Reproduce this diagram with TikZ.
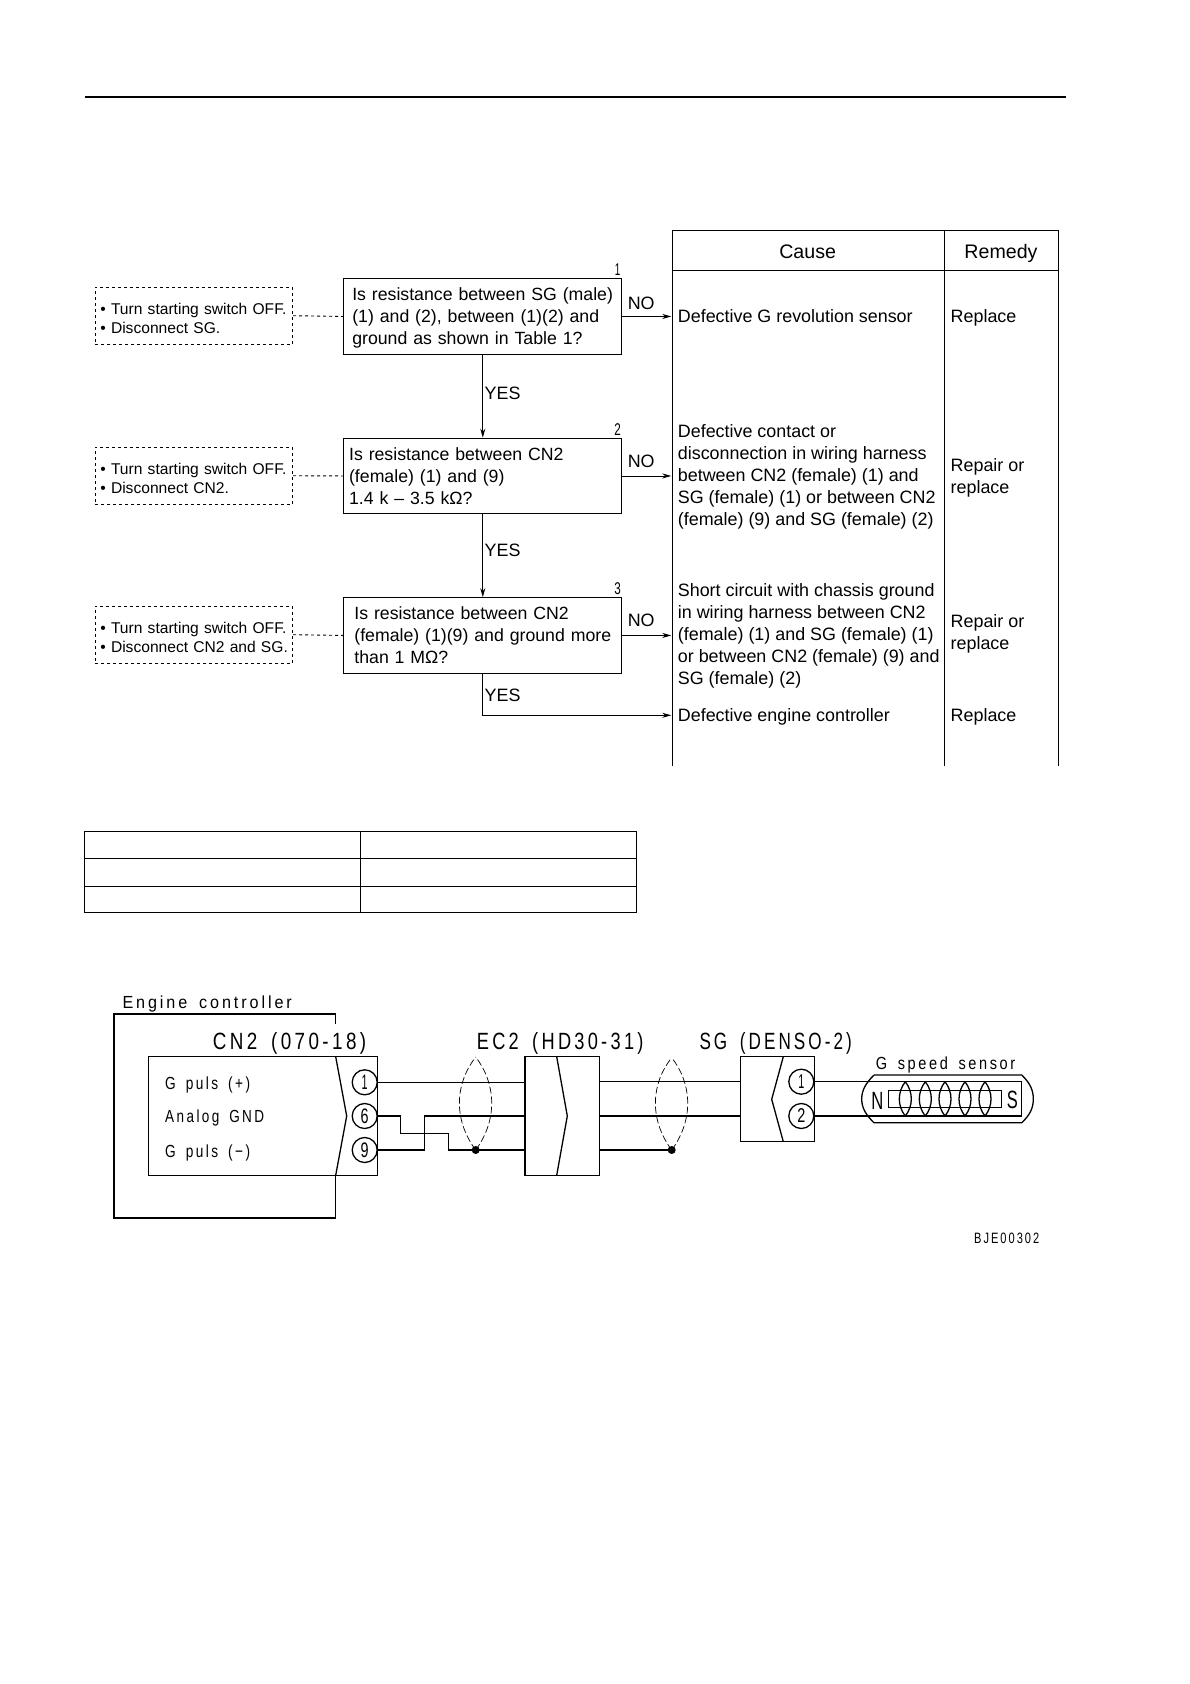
\documentclass[tikz,border=0pt]{standalone}
\usepackage{graphicx}
\usepackage{fontspec}
\setmainfont{Liberation Sans}
\newfontfamily\cadfont[LetterSpace=18,WordSpace=1.6]{Liberation Sans}
\usetikzlibrary{arrows.meta}
\newcommand{\cad}[3]{\resizebox{#1pt}{\height}{\fontsize{#2}{#2}\cadfont #3}}
\tikzset{
  ln/.style={line width=1pt,black},
  arr/.style={line width=0.9pt,-{Stealth[length=9pt,width=5pt]}},
  qbox/.style={draw,line width=1.1pt,inner ysep=0pt,inner xsep=#1,text width=278.2pt-2*#1,minimum height=75.5pt,align=left,anchor=north west,font=\fontsize{17.7}{22}\selectfont},
  cond/.style={draw,dashed,line width=0.9pt,inner ysep=0pt,inner xsep=5.4pt,text width=186.8pt,minimum height=57pt,align=left,anchor=north west,font=\fontsize{15.6}{19}\selectfont},
  dashln/.style={dashed,line width=0.9pt},
  body/.style={inner sep=0pt,align=left,anchor=west,font=\fontsize{17.9}{22}\selectfont},
  head/.style={inner sep=0pt,anchor=base,font=\fontsize{19.6}{22}\selectfont},
  lab/.style={inner sep=0pt,font=\fontsize{17.9}{22}\selectfont},
  num/.style={inner sep=0pt,font=\fontsize{17}{18}\selectfont},
  cadl/.style={inner sep=0pt,anchor=base west},
  wire/.style={line width=1.3pt},
  pin/.style={circle,draw,line width=1.3pt,minimum size=25pt,inner sep=0pt},
  shield/.style={line width=0.7pt,dash pattern=on 7pt off 3pt},
  dot/.style={circle,fill=black,minimum size=8pt,inner sep=0pt}
}
\begin{document}
\begin{tikzpicture}[x=1pt,y=-1pt]
\useasboundingbox[fill=white] (0,0) rectangle (1190,1684);
\begin{scope}[x=1.074pt,y=-1.074pt]
\coordinate (tl) at (79,90); \coordinate (tr) at (993,90);
\draw[line width=2pt] (tl) -- (tr);
% cause / remedy table
\coordinate (ca) at (626,214.5); \coordinate (cb) at (879.5,214.5); \coordinate (cc) at (985.5,214.5);
\coordinate (da) at (626,252); \coordinate (db) at (879.5,252); \coordinate (dc) at (985.5,252);
\coordinate (ea) at (626,713); \coordinate (eb) at (879.5,713); \coordinate (ec) at (985.5,713);
\draw[ln] (ca) -- (cc) (da) -- (dc) (ca) -- (ea) (cb) -- (eb) (cc) -- (ec);
\node[head] (hc) at (752,240.5) {Cause};
\node[head] (hr) at (932,240.5) {Remedy};
% questions
\node[qbox=8.6pt] (q1) at (319.5,259) {\rule{0pt}{15.5pt}\mbox{Is resistance between SG (male)}\\\mbox{(1) and (2), between (1)(2) and}\\\mbox{ground as shown in Table 1?}};
\node[qbox=5.4pt] (q2) at (319.5,407.5) {\mbox{Is resistance between CN2}\\\mbox{(female) (1) and (9)}\\\mbox{1.4 k – 3.5 kΩ?}};
\node[qbox=10.7pt] (q3) at (319.5,556) {\mbox{Is resistance between CN2}\\\mbox{(female) (1)(9) and ground more}\\\mbox{than 1 MΩ?}};
\node[num] (n1) at (575,251) {\resizebox{5.5pt}{\height}{1}};
\node[num] (n2) at (575,400) {\resizebox{6.5pt}{\height}{2}};
\node[num] (n3) at (575,548) {\resizebox{6.5pt}{\height}{3}};
% conditions
\node[cond] (p1) at (88,267) {\rule{0pt}{16pt}\mbox{• Turn starting switch OFF.}\\\mbox{• Disconnect SG.}};
\node[cond] (p2) at (88,416) {\rule{0pt}{16pt}\mbox{• Turn starting switch OFF.}\\\mbox{• Disconnect CN2.}};
\node[cond] (p3) at (88,564) {\rule{0pt}{16pt}\mbox{• Turn starting switch OFF.}\\\mbox{• Disconnect CN2 and SG.}};
\draw[dashln] (p1.east) -- (q1.west);
\draw[dashln] (p2.east) -- (q2.west);
\draw[dashln] (p3.east) -- (q3.west);
% cause targets
\coordinate (t1) at (625,294); \coordinate (t2) at (625,443); \coordinate (t3) at (625,591); \coordinate (t4) at (625,666);
\draw[arr] (q1.east) -- (q1.east -| t1);
\draw[arr] (q2.east) -- (q2.east -| t2);
\draw[arr] (q3.east) -- (q3.east -| t3);
\draw[arr] (q1.south) -- (q2.north);
\draw[arr] (q2.south) -- (q3.north);
\draw[arr] (q3.south) |- (t4);
\node[lab] (no1) at (597,282) {NO};
\node[lab] (no2) at (597,430) {NO};
\node[lab] (no3) at (597,578) {NO};
\node[lab] (y1) at (468,366) {YES};
\node[lab] (y2) at (468,512) {YES};
\node[lab] (y3) at (468,647) {YES};
% causes
\node[body] (c1) at (631,294.5) {Defective G revolution sensor};
\node[body] (c2) at (631,444) {Defective contact or\\disconnection in wiring harness\\between CN2 (female) (1) and\\SG (female) (1) or between CN2\\(female) (9) and SG (female) (2)};
\node[body] (c3) at (631,592) {Short circuit with chassis ground\\in wiring harness between CN2\\(female) (1) and SG (female) (1)\\or between CN2 (female) (9) and\\SG (female) (2)};
\node[body] (c4) at (631,667.5) {Defective engine controller};
\node[body] (r1) at (885,296) {Replace};
\node[body] (r2) at (885,445) {Repair or\\replace};
\node[body] (r3) at (885,590.5) {Repair or\\replace};
\node[body] (r4) at (885,667.5) {Replace};
% empty table 1
\coordinate (k1) at (79,774); \coordinate (k2) at (335.5,774); \coordinate (k3) at (592.5,774);
\coordinate (l1) at (79,799); \coordinate (l3) at (592.5,799);
\coordinate (m1) at (79,825); \coordinate (m3) at (592.5,825);
\coordinate (o1) at (79,849.5); \coordinate (o2) at (335.5,849.5); \coordinate (o3) at (592.5,849.5);
\draw[line width=0.9pt] (k1) rectangle (o3) (l1) -- (l3) (m1) -- (m3) (k2) -- (o2);
\end{scope}
% ---- wiring diagram (full-size pixels)
\coordinate (ec0) at (335.7,1024); \coordinate (ec1) at (335.7,1014); \coordinate (ec2) at (114,1014);
\coordinate (ec3) at (114,1218); \coordinate (ec4) at (335.7,1218); \coordinate (ec5) at (335.7,1175.3);
\draw[wire] (ec0) -- (ec1) -- (ec2) -- (ec3) -- (ec4) -- (ec5);
\node[cadl] (tec) at (122.3,1008) {\cad{169.4}{17.5}{Engine controller}};
\node[cadl] (tcn) at (212.7,1049.5) {\cad{153.3}{23.5}{CN2 (070-18)}};
\node[cadl] (tec2) at (476.7,1049.5) {\cad{166.6}{23.5}{EC2 (HD30-31)}};
\node[cadl] (tsg) at (699.3,1049.5) {\cad{152.4}{23.5}{SG (DENSO-2)}};
\node[cadl] (tgs) at (875.7,1069) {\cad{139.3}{17.5}{G speed sensor}};
\node[cadl] (tg1) at (165,1089.5) {\cad{85}{17.5}{G puls (+)}};
\node[cadl] (tg2) at (165,1122) {\cad{99}{17.5}{Analog GND}};
\node[cadl] (tg3) at (165,1157.5) {\cad{85}{17.5}{G puls (−)}};
\node[cadl] (tbj) at (974,1243.5) {\cad{65}{15}{BJE00302}};
% CN2 connector
\draw[wire] (148.3,1056.7) rectangle (377.7,1175.3);
\draw[wire] (335.7,1056.7) -- (346.7,1116) -- (335.7,1175.3);
\node[pin] (a1) at (364.7,1082.3) {};
\node[pin] (a6) at (364.7,1116) {};
\node[pin] (a9) at (364.7,1150) {};
\node[inner sep=0pt,font=\fontsize{21}{21}\selectfont] (a1t) at (364.7,1082.3) {\resizebox{6pt}{\height}{1}};
\node[inner sep=0pt,font=\fontsize{21}{21}\selectfont] (a6t) at (364.7,1116) {\resizebox{8pt}{\height}{6}};
\node[inner sep=0pt,font=\fontsize{21}{21}\selectfont] (a9t) at (364.7,1150) {\resizebox{8pt}{\height}{9}};
% EC2 connector
\draw[wire] (525,1056.7) rectangle (599.3,1175.3);
\draw[wire] (556.7,1056.7) -- (567.3,1116) -- (556.7,1175.3);
% SG connector
\draw[wire] (740.3,1056.7) rectangle (814.7,1141.7);
\draw[wire] (783.3,1056.7) -- (771.7,1099.3) -- (783.3,1141.7);
\node[pin] (b1) at (801.3,1081.7) {};
\node[pin] (b2) at (801.3,1116) {};
\node[inner sep=0pt,font=\fontsize{20}{20}\selectfont] (b1t) at (801.3,1081.7) {\resizebox{6pt}{\height}{1}};
\node[inner sep=0pt,font=\fontsize{20}{20}\selectfont] (b2t) at (801.3,1116) {\resizebox{8pt}{\height}{2}};
% wires left
\coordinate (w1a) at (377.7,1082.3); \coordinate (w1b) at (525,1082.3);
\coordinate (w6a) at (377.7,1116); \coordinate (w9a) at (377.7,1150);
\coordinate (w6b) at (525,1150); \coordinate (w9b) at (525,1116);
\draw[wire] (w1a) -- (w1b);
\draw[wire] (w6a) -- (400.7,1116) -- (400.7,1133.3) -- (448.7,1133.3) -- (448.7,1150) -- (w6b);
\draw[wire] (w9a) -- (424.3,1150) -- (424.3,1116) -- (w9b);
\node[dot] (d1) at (475.7,1150) {};
\draw[shield] (d1.center) .. controls (452,1118) and (456,1082) .. (475.7,1057);
\draw[shield] (d1.center) .. controls (499,1118) and (495,1082) .. (475.7,1057);
% wires middle
\coordinate (x1a) at (599.3,1081.7); \coordinate (x1b) at (740.3,1081.7);
\coordinate (x2a) at (599.3,1116); \coordinate (x2b) at (740.3,1116);
\coordinate (x3a) at (599.3,1150);
\node[dot] (d2) at (671.7,1150) {};
\draw[wire] (x1a) -- (x1b) (x2a) -- (x2b) (x3a) -- (d2.center);
\draw[shield] (d2.center) .. controls (648,1118) and (652,1082) .. (671.7,1057.7);
\draw[shield] (d2.center) .. controls (695,1118) and (691,1082) .. (671.7,1057.7);
% sensor
\coordinate (s1) at (814.7,1081.7); \coordinate (s2) at (1021.7,1081.7);
\coordinate (s3) at (1021.7,1116); \coordinate (s4) at (814.7,1116);
\draw[wire] (s1) -- (s2) -- (s3) -- (s4);
\draw[wire] (874,1075) -- (1021.7,1075) .. controls (1030,1083) and (1033.3,1090) .. (1033.3,1099) .. controls (1033.3,1108) and (1030,1115) .. (1021.7,1122.7) -- (874,1122.7) .. controls (866,1115) and (861.7,1108) .. (861.7,1099) .. controls (861.7,1090) and (866,1083) .. (874,1075);
\draw[wire] (888.3,1090.7) rectangle (1001.7,1107.7);
\foreach \cx in {905.3,925.3,945,965,985}{
  \draw[wire] (\cx,1081.7) .. controls (\cx-8,1092) and (\cx-8,1106) .. (\cx,1116) .. controls (\cx+8,1106) and (\cx+8,1092) .. (\cx,1081.7);
}
\node[inner sep=0pt,font=\fontsize{25}{25}\selectfont] (tn) at (877.3,1100.7) {\resizebox{12pt}{\height}{N}};
\node[inner sep=0pt,font=\fontsize{25}{25}\selectfont] (ts) at (1012.3,1100) {\resizebox{11pt}{\height}{S}};
\end{tikzpicture}
\end{document}
